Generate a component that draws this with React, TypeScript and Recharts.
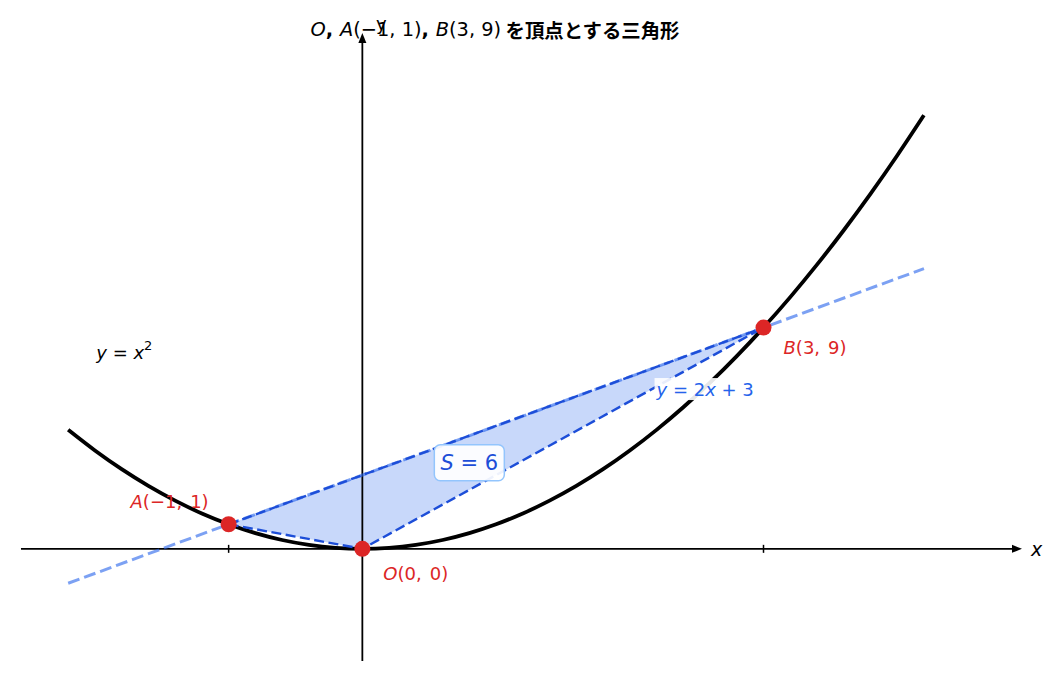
import React from 'react';
import {
  ComposedChart,
  XAxis,
  YAxis,
  Line,
  Area,
  Scatter,
  ReferenceDot,
  ReferenceLine,
} from 'recharts';

// ---- data ----
const curveX = [
  -2.2, -2.0, -1.8, -1.6, -1.4, -1.2, -1.0, -0.8, -0.6, -0.4, -0.2, 0.0, 0.2, 0.4, 0.6, 0.8, 1.0,
  1.2, 1.4, 1.6, 1.8, 2.0, 2.2, 2.4, 2.6, 2.8, 3.0, 3.2, 3.4, 3.6, 3.8, 4.0, 4.2,
];
const curveY = [
  4.84, 4.0, 3.24, 2.56, 1.96, 1.44, 1.0, 0.64, 0.36, 0.16, 0.04, 0.0, 0.04, 0.16, 0.36, 0.64, 1.0,
  1.44, 1.96, 2.56, 3.24, 4.0, 4.84, 5.76, 6.76, 7.84, 9.0, 10.24, 11.56, 12.96, 14.44, 16.0, 17.64,
];
const lineX = [-2.2, 4.2];
const lineY = [-1.4, 11.4];
const vertexNames = ['A', 'O', 'B'];
const vertexX = [-1, 0, 3];
const vertexY = [1, 0, 9];
const xTicks = [-1, 3];
const xAxisRange = [-2.553, 4.933];
const yAxisRange = [-4.565, 20.98];
const curveLabelPos = [-1.78, 8];
const lineLabelPos = [2.2, 6.5];
const areaLabelPos = [0.8, 3.5];
const areaValue = 6;

// ---- derived tables ----
const curveData = curveX.map((x, i) => ({ x, y: curveY[i] }));
const lineData = lineX.map((x, i) => ({ x, y: lineY[i] }));
const vertices = vertexNames.map((name, i) => ({ name, x: vertexX[i], y: vertexY[i] }));
const A = vertices[0];
const O = vertices[1];
const B = vertices[2];
const abAt = (x: number) => A.y + ((B.y - A.y) * (x - A.x)) / (B.x - A.x);
const triangleFill = [
  { x: A.x, r: [A.y, A.y] },
  { x: O.x, r: [O.y, abAt(O.x)] },
  { x: B.x, r: [B.y, B.y] },
];
const edgeAB = [
  { x: A.x, y: A.y },
  { x: B.x, y: B.y },
];
const edgeAOB = [
  { x: A.x, y: A.y },
  { x: O.x, y: O.y },
  { x: B.x, y: B.y },
];

const FONT = '"DejaVu Sans", sans-serif';
const RED = '#dc2626';
const BLUE = '#2563eb';
const DARK_BLUE = '#1d4ed8';

const W = 1043;
const H = 665;

const labelOffsets: Record<string, { dx: number; dy: number; anchor: 'start' | 'end' }> = {
  A: { dx: -20, dy: -23, anchor: 'end' },
  O: { dx: 21, dy: 24, anchor: 'start' },
  B: { dx: 20, dy: 19, anchor: 'start' },
};

export default function App() {
  return (
    <div style={{ position: 'relative', width: W, height: H }}>
      <ComposedChart
        width={W}
        height={H}
        margin={{ top: 0, right: 0, bottom: 0, left: 0 }}
      >
        <XAxis
          type="number"
          dataKey="x"
          domain={[-2.65, 5.15]}
          allowDataOverflow
          hide
          height={0}
        />
        <YAxis
          type="number"
          dataKey="y"
          domain={[-5.05, 22]}
          allowDataOverflow
          hide
          width={0}
        />

        {/* axes */}
        <ReferenceLine
          segment={[
            { x: xAxisRange[0], y: 0 },
            { x: xAxisRange[1] - 0.05, y: 0 },
          ]}
          stroke="#000"
          strokeWidth={1.8}
          ifOverflow="visible"
        />
        <ReferenceLine
          segment={[
            { x: 0, y: yAxisRange[0] },
            { x: 0, y: yAxisRange[1] - 0.3 },
          ]}
          stroke="#000"
          strokeWidth={1.8}
          ifOverflow="visible"
        />
        <ReferenceDot
          x={xAxisRange[1]}
          y={0}
          r={0}
          ifOverflow="visible"
          shape={(p: any) => (
            <g>
              <polygon
                points={`${p.cx},${p.cy} ${p.cx - 10},${p.cy - 4} ${p.cx - 10},${p.cy + 4}`}
                fill="#000"
              />
              <text
                x={p.cx + 9}
                y={p.cy}
                dominantBaseline="central"
                fontFamily={FONT}
                fontStyle="italic"
                fontSize={19}
                fill="#000"
              >
                x
              </text>
            </g>
          )}
        />
        <ReferenceDot
          x={0}
          y={yAxisRange[1]}
          r={0}
          ifOverflow="visible"
          shape={(p: any) => (
            <g>
              <polygon
                points={`${p.cx},${p.cy} ${p.cx - 4},${p.cy + 10} ${p.cx + 4},${p.cy + 10}`}
                fill="#000"
              />
              <text
                x={p.cx + 19}
                y={p.cy - 10}
                textAnchor="middle"
                dominantBaseline="central"
                fontFamily={FONT}
                fontSize={18}
                fill="#000"
              >
                y
              </text>
            </g>
          )}
        />
        {xTicks.map((t) => (
          <ReferenceDot
            key={`tick-${t}`}
            x={t}
            y={0}
            r={0}
            ifOverflow="visible"
            shape={(p: any) => (
              <line x1={p.cx} y1={p.cy - 4} x2={p.cx} y2={p.cy + 4} stroke="#000" strokeWidth={1.5} />
            )}
          />
        ))}

        {/* triangle fill */}
        <Area
          data={triangleFill}
          dataKey="r"
          type="linear"
          fill={BLUE}
          fillOpacity={0.25}
          stroke="none"
          isAnimationActive={false}
          activeDot={false}
          dot={false}
        />

        {/* parabola */}
        <Line
          data={curveData}
          dataKey="y"
          type="monotone"
          stroke="#000"
          strokeWidth={3.8}
          dot={false}
          activeDot={false}
          isAnimationActive={false}
        />

        {/* line y = 2x + 3 */}
        <Line
          data={lineData}
          dataKey="y"
          type="linear"
          stroke={BLUE}
          strokeOpacity={0.6}
          strokeWidth={3}
          strokeDasharray="12 5"
          dot={false}
          activeDot={false}
          isAnimationActive={false}
        />

        {/* triangle edges */}
        <Line
          data={edgeAB}
          dataKey="y"
          type="linear"
          stroke={DARK_BLUE}
          strokeWidth={2.4}
          strokeDasharray="10 4.5"
          dot={false}
          activeDot={false}
          isAnimationActive={false}
        />
        <Line
          data={edgeAOB}
          dataKey="y"
          type="linear"
          stroke={DARK_BLUE}
          strokeWidth={2.4}
          strokeDasharray="10 4.5"
          dot={false}
          activeDot={false}
          isAnimationActive={false}
        />

        {/* vertices */}
        <Scatter
          data={vertices}
          fill={RED}
          isAnimationActive={false}
          shape={(p: any) => <circle cx={p.cx} cy={p.cy} r={8} fill={RED} />}
        />
        {vertices.map((v) => {
          const o = labelOffsets[v.name];
          return (
            <ReferenceDot
              key={`lab-${v.name}`}
              x={v.x}
              y={v.y}
              r={0}
              ifOverflow="visible"
              shape={(p: any) => (
                <text
                  x={p.cx + o.dx}
                  y={p.cy + o.dy}
                  textAnchor={o.anchor}
                  dominantBaseline="central"
                  fontFamily={FONT}
                  fontSize={18}
                  fill={RED}
                >
                  <tspan fontStyle="italic">{v.name}</tspan>
                  <tspan>{`(${v.x < 0 ? '−' + Math.abs(v.x) : v.x},`}</tspan>
                  <tspan dx={8}>{`${v.y})`}</tspan>
                </text>
              )}
            />
          );
        })}

        {/* y = x^2 label */}
        <ReferenceDot
          x={curveLabelPos[0]}
          y={curveLabelPos[1]}
          r={0}
          ifOverflow="visible"
          shape={(p: any) => (
            <text
              x={p.cx}
              y={p.cy}
              textAnchor="middle"
              dominantBaseline="central"
              fontFamily={FONT}
              fontSize={18}
              fill="#000"
            >
              <tspan fontStyle="italic">y</tspan>
              <tspan> = </tspan>
              <tspan fontStyle="italic">x</tspan>
              <tspan fontSize={13} dy={-7}>2</tspan>
            </text>
          )}
        />

        {/* y = 2x + 3 label */}
        <ReferenceDot
          x={lineLabelPos[0]}
          y={lineLabelPos[1]}
          r={0}
          ifOverflow="visible"
          shape={(p: any) => (
            <g>
              <rect x={p.cx - 2} y={p.cy - 11} width={100} height={22} fill="#fff" fillOpacity={0.9} />
              <text
                x={p.cx}
                y={p.cy}
                textAnchor="start"
                dominantBaseline="central"
                fontFamily={FONT}
                fontSize={18}
                fill={BLUE}
              >
                <tspan fontStyle="italic">y</tspan>
                <tspan> = 2</tspan>
                <tspan fontStyle="italic">x</tspan>
                <tspan> + 3</tspan>
              </text>
            </g>
          )}
        />

        {/* S = 6 label */}
        <ReferenceDot
          x={areaLabelPos[0]}
          y={areaLabelPos[1]}
          r={0}
          ifOverflow="visible"
          shape={(p: any) => (
            <g>
              <rect
                x={p.cx - 35}
                y={p.cy - 18}
                width={70}
                height={36}
                rx={6}
                ry={6}
                fill="#fff"
                fillOpacity={0.92}
                stroke="#93c5fd"
                strokeWidth={1.5}
              />
              <text
                x={p.cx}
                y={p.cy}
                textAnchor="middle"
                dominantBaseline="central"
                fontFamily={FONT}
                fontSize={21}
                fill={DARK_BLUE}
              >
                <tspan fontStyle="italic">S</tspan>
                <tspan> = {areaValue}</tspan>
              </text>
            </g>
          )}
        />
      </ComposedChart>

      {/* title */}
      <svg
        width={W}
        height={50}
        style={{ position: 'absolute', left: 0, top: 0, pointerEvents: 'none' }}
      >
        <text
          x={487}
          y={21}
          textAnchor="middle"
          dominantBaseline="central"
          fontFamily={FONT}
          fontSize={19.4}
          fill="#000"
        >
          <tspan fontStyle="italic">O</tspan>
          <tspan fontWeight="bold">, </tspan>
          <tspan fontStyle="italic">A</tspan>
          <tspan>(−1, 1)</tspan>
          <tspan fontWeight="bold">, </tspan>
          <tspan fontStyle="italic">B</tspan>
          <tspan>(3, 9)</tspan>
          <tspan fontWeight="bold" fontFamily='"Noto Sans CJK JP", "DejaVu Sans", sans-serif'>
            {' を頂点とする三角形'}
          </tspan>
        </text>
      </svg>
    </div>
  );
}
